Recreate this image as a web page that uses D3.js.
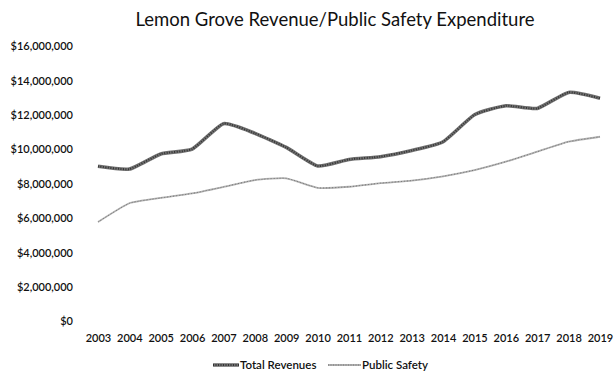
<!DOCTYPE html>
<html><head><meta charset="utf-8">
<script src="https://cdn.jsdelivr.net/npm/d3@7"></script>
<style>body{margin:0;background:#fff}svg{display:block}</style>
</head><body>
<svg id="c" width="615" height="375"></svg>
<script>
const years = [2003,2004,2005,2006,2007,2008,2009,2010,2011,2012,2013,2014,2015,2016,2017,2018,2019];
const totalRevenues = [9.0e6,8.84e6,9.72e6,10.0e6,11.48e6,10.92e6,10.1e6,9.02e6,9.4e6,9.56e6,9.92e6,10.43e6,12.0e6,12.52e6,12.37e6,13.3e6,12.96e6];
const publicSafety = [5.76e6,6.85e6,7.16e6,7.42e6,7.8e6,8.2e6,8.3e6,7.75e6,7.81e6,8.02e6,8.17e6,8.42e6,8.78e6,9.27e6,9.85e6,10.43e6,10.72e6];
const yTicks = [0,2e6,4e6,6e6,8e6,10e6,12e6,14e6,16e6];
const seriesNames = ["Total Revenues","Public Safety"];

const svg = d3.select("#c");
const font = "Lato, 'Open Sans', sans-serif";
const x = d3.scalePoint().domain(years).range([98,600]);
const y = d3.scaleLinear().domain([0,16e6]).range([321,46]);

svg.append("text").attr("x",335).attr("y",26).attr("text-anchor","middle")
  .attr("font-family",font).attr("font-size",18.5).attr("fill","#111")
  .text("Lemon Grove Revenue/Public Safety Expenditure");

const fmt = v => "$" + d3.format(",")(v);
const yAxis = d3.axisLeft(y).tickValues(yTicks).tickFormat(fmt).tickSize(0).tickPadding(0);
const gy = svg.append("g").attr("transform","translate(73,0)").call(yAxis);
gy.select(".domain").remove();
gy.selectAll("text").attr("font-family",font).attr("font-size",11).attr("font-weight",600).attr("fill","#111").attr("dy","0.35em");

const xAxis = d3.axisBottom(x).tickSize(0).tickPadding(0);
const gx = svg.append("g").attr("transform","translate(0,334)").call(xAxis);
gx.select(".domain").remove();
gx.selectAll("text").attr("font-family",font).attr("font-size",11).attr("font-weight",600).attr("fill","#111").attr("dy","0.71em");

const line = d3.line().x((d,i)=>x(years[i])).y(d=>y(d)).curve(d3.curveCardinal.tension(0.5));

// Public Safety
svg.append("path").attr("d",line(publicSafety)).attr("fill","none")
  .attr("stroke","#b0b0b0").attr("stroke-width",1.8);
svg.append("path").attr("d",line(publicSafety)).attr("fill","none")
  .attr("stroke","#777").attr("stroke-width",1).attr("stroke-dasharray","1,2");
// Total Revenues
svg.append("path").attr("d",line(totalRevenues)).attr("fill","none")
  .attr("stroke","#707070").attr("stroke-width",3.6);
svg.append("path").attr("d",line(totalRevenues)).attr("fill","none")
  .attr("stroke","#333").attr("stroke-width",2).attr("stroke-dasharray","1,1.5");

// legend
const lg = svg.append("g").attr("font-family",font).attr("font-size",11.5).attr("font-weight",600).attr("fill","#111");
const legItems = [{name:seriesNames[0],x:213,len:26,w:3.6,c:"#707070",c2:"#333",w2:2},{name:seriesNames[1],x:328,len:33,w:1.8,c:"#b0b0b0",c2:"#777",w2:1}];
legItems.forEach(it=>{
  lg.append("line").attr("x1",it.x).attr("x2",it.x+it.len).attr("y1",365).attr("y2",365).attr("stroke",it.c).attr("stroke-width",it.w);
  lg.append("line").attr("x1",it.x).attr("x2",it.x+it.len).attr("y1",365).attr("y2",365).attr("stroke",it.c2).attr("stroke-width",it.w2).attr("stroke-dasharray","1,1.5");
  lg.append("text").attr("x",it.x+it.len+1).attr("y",365).attr("dy","0.35em").text(it.name);
});
</script>
</body></html>
